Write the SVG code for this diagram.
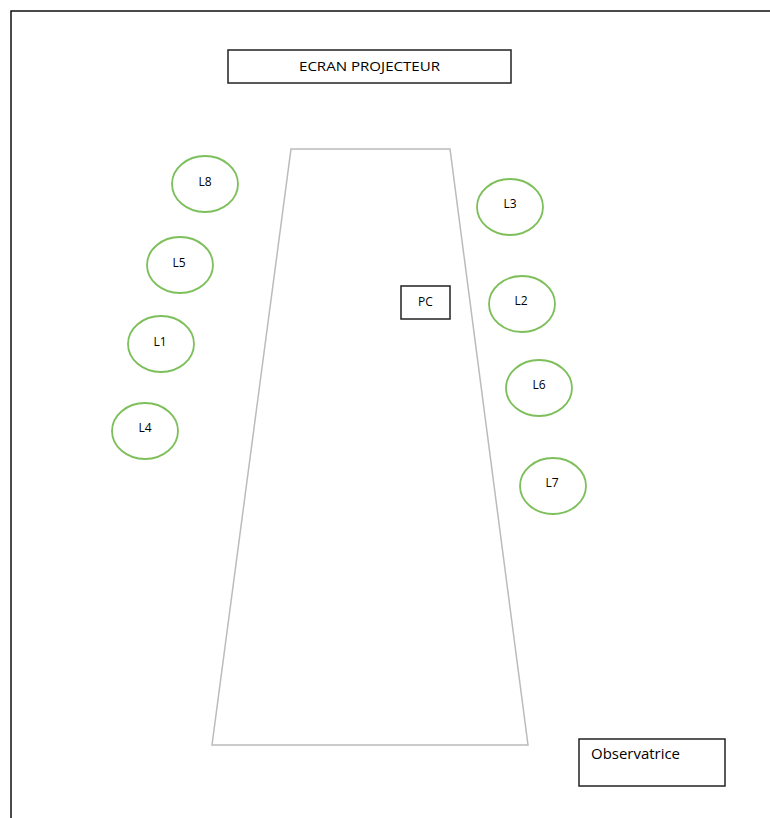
<svg xmlns="http://www.w3.org/2000/svg" width="770" height="818" viewBox="0 0 770 818">
<style>
.t{font-family:"Open Sans","Liberation Sans",sans-serif;font-size:12px;fill:#000;text-anchor:middle;dominant-baseline:middle}
.c{fill:#fff;stroke:#7dbf5a;stroke-width:1.8}
.b{fill:#fff;stroke:#222;stroke-width:1.5}
</style>
<rect width="770" height="818" fill="#fff"/>
<rect x="11" y="11" width="820" height="860" fill="none" stroke="#111" stroke-width="1.5"/>
<g id="ecran"><rect class="b" x="228" y="50" width="283" height="33"/><text class="t" x="369.5" y="68" style="font-size:13px" textLength="141" lengthAdjust="spacingAndGlyphs">ECRAN PROJECTEUR</text></g>
<g id="table"><polygon points="291,149 450,149 528,745 212,745" fill="#fff" stroke="#bbb" stroke-width="1.5"/></g>
<g id="pc"><rect class="b" x="401" y="286" width="49" height="33"/><text class="t" x="425.5" y="303">PC</text></g>
<g id="L8"><ellipse class="c" cx="205" cy="184" rx="33" ry="28"/><text class="t" x="205" y="183">L8</text></g>
<g id="L5"><ellipse class="c" cx="180" cy="265" rx="33" ry="28"/><text class="t" x="179" y="264">L5</text></g>
<g id="L1"><ellipse class="c" cx="161" cy="344" rx="33" ry="28"/><text class="t" x="160" y="343">L1</text></g>
<g id="L4"><ellipse class="c" cx="145" cy="431" rx="33" ry="28"/><text class="t" x="145" y="429">L4</text></g>
<g id="L3"><ellipse class="c" cx="510" cy="207" rx="33" ry="28"/><text class="t" x="510" y="205">L3</text></g>
<g id="L2"><ellipse class="c" cx="522" cy="304" rx="33" ry="28"/><text class="t" x="521" y="302">L2</text></g>
<g id="L6"><ellipse class="c" cx="539" cy="388" rx="33" ry="28"/><text class="t" x="539" y="386">L6</text></g>
<g id="L7"><ellipse class="c" cx="553" cy="486" rx="33" ry="28"/><text class="t" x="552" y="484">L7</text></g>
<g id="observatrice"><rect class="b" x="579" y="739" width="146" height="47"/><text class="t" x="591" y="755" style="text-anchor:start;font-size:14px" textLength="89" lengthAdjust="spacingAndGlyphs">Observatrice</text></g>
</svg>
